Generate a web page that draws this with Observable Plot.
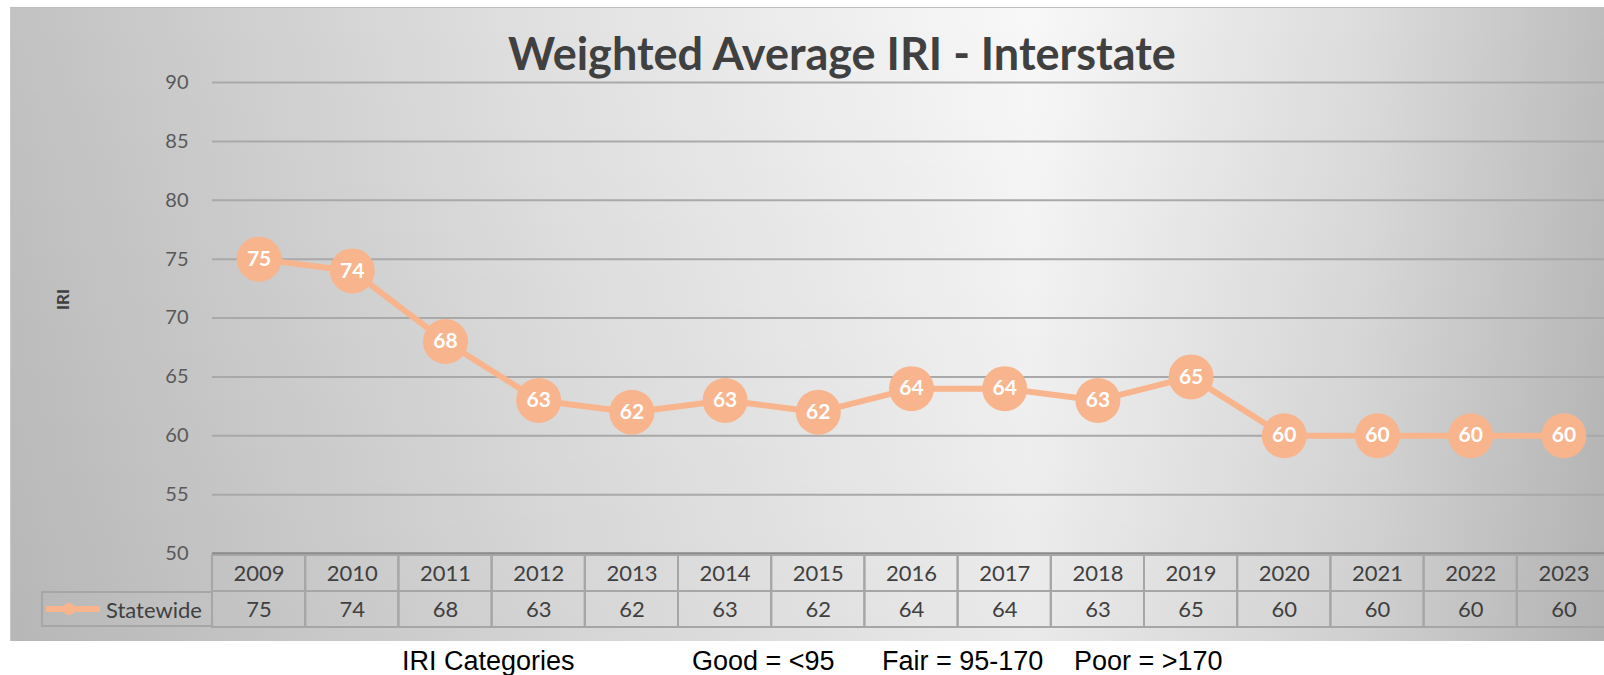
<!DOCTYPE html>
<html><head><meta charset="utf-8">
<script src="https://cdn.jsdelivr.net/npm/d3@7"></script>
<script src="https://cdn.jsdelivr.net/npm/@observablehq/plot@0.6"></script>
<style>
body{margin:0;background:#fff;}
#wrap{position:relative;width:1604px;height:675px;overflow:hidden;background:#fff;font-family:Lato,"Open Sans",sans-serif;}
#bg{position:absolute;left:10px;top:7px;width:1594px;height:634px;box-sizing:border-box;border-top:1px solid #bdbdbd;border-left:1px solid #c8c8c8;
 background:linear-gradient(to bottom, rgba(0,0,0,0) 0%, rgba(0,0,0,0.06) 100%), linear-gradient(to right, #c2c2c2 0%, #e2e2e2 35%, #f8f8f8 64%, #dcdcdc 85%, #bdbdbd 100%);}
#title{position:absolute;left:342px;top:26px;width:1000px;text-align:center;font:bold 45px/54px Lato,"Open Sans",sans-serif;color:#404040;}
#chart,#table{position:absolute;left:0;}
#chart{top:0;}
#table{top:553px;}
#chart svg,#table svg{max-width:none !important;}
#legend{position:absolute;left:41px;top:591px;width:172px;height:36px;box-sizing:border-box;border:2px solid #a6a6a6;border-right:none;display:flex;align-items:center;font:22px Lato,sans-serif;color:#404040;}
#legend svg{margin-left:3px;margin-right:6px;}
.cap{position:absolute;top:647px;font:27px/28px "Liberation Sans",Arial,sans-serif;color:#000;white-space:nowrap;}
</style>
</head><body>
<div id="wrap">
  <div id="bg"></div>
  <div id="title"></div>
  <div id="chart"></div>
  <div id="table"></div>
  <div id="legend"></div>
</div>
<script>
const years = ["2009","2010","2011","2012","2013","2014","2015","2016","2017","2018","2019","2020","2021","2022","2023"];
const statewide = [75,74,68,63,62,63,62,64,64,63,65,60,60,60,60];
const yTicks = [50,55,60,65,70,75,80,85,90];
const seriesName = "Statewide";
const titleText = "Weighted Average IRI - Interstate";
const yLabel = "IRI";
const captions = [["IRI Categories",402],["Good = <95",692],["Fair = 95-170",882],["Poor = >170",1074]];

const color = "#F8B48C";
const data = years.map((y,i)=>({year:y, value:statewide[i]}));

document.getElementById("title").textContent = titleText;

const W = 1610;
const ML = 212;
const xDomain = years;
const chart = Plot.plot({
  width:W, height:555,
  marginLeft:ML, marginRight:0, marginTop:82, marginBottom:2,
  style:{background:"transparent", fontFamily:"Lato, 'Open Sans', sans-serif", fontSize:"20px", color:"#595959", overflow:"visible", maxWidth:"none"},
  x:{type:"band", domain:xDomain, padding:0, round:false, axis:null},
  y:{domain:[50,90], axis:null},
  marks:[
    Plot.ruleY(yTicks.filter(t=>t>50), {stroke:"#a9a9a9", strokeWidth:2}),
    Plot.ruleY([50], {stroke:"#8a8a8a", strokeWidth:2.5}),
    Plot.axisY({ticks:yTicks, tickSize:0, tickPadding:24, fontSize:20, label:null}),
    Plot.text([yLabel], {frameAnchor:"left", dx:-149, dy:-8, rotate:-90, text:d=>d, fontWeight:"bold", fontSize:17, fill:"#404040"}),
    Plot.line(data, {x:"year", y:"value", stroke:color, strokeWidth:6}),
    Plot.dot(data, {x:"year", y:"value", r:22.5, fill:color, stroke:"none"}),
    Plot.text(data, {x:"year", y:"value", text:d=>String(d.value), fill:"white", fontWeight:"bold", fontSize:21})
  ]
});
document.getElementById("chart").appendChild(chart);

const rows = ["year","value"];
const cells = [];
data.forEach(d=>{
  cells.push({year:d.year, row:"year", label:d.year});
  cells.push({year:d.year, row:"value", label:String(d.value)});
});
const table = Plot.plot({
  width:W, height:88,
  marginLeft:ML, marginRight:0, marginTop:2, marginBottom:14,
  style:{background:"transparent", fontFamily:"Lato, 'Open Sans', sans-serif", fontSize:"22px", color:"#404040", maxWidth:"none"},
  x:{type:"band", domain:xDomain, padding:0, round:false, axis:null},
  y:{type:"band", domain:rows, padding:0, round:false, axis:null},
  marks:[
    Plot.cell(cells, {x:"year", y:"row", fill:"none", stroke:"#a6a6a6", strokeWidth:2}),
    Plot.text(cells, {x:"year", y:"row", text:"label", fill:"#404040", fontSize:22})
  ]
});
document.getElementById("table").appendChild(table);

// legend swatch
const lg = document.getElementById("legend");
lg.innerHTML = `<svg width="54" height="14"><line x1="0" y1="7" x2="54" y2="7" stroke="${color}" stroke-width="6"/><circle cx="23" cy="7" r="6" fill="${color}"/></svg><span></span>`;
lg.querySelector("span").textContent = seriesName;

const wrap = document.getElementById("wrap");
captions.forEach(([t,x])=>{
  const s = document.createElement("div");
  s.className = "cap"; s.style.left = x+"px"; s.textContent = t;
  wrap.appendChild(s);
});
</script>
</body></html>
